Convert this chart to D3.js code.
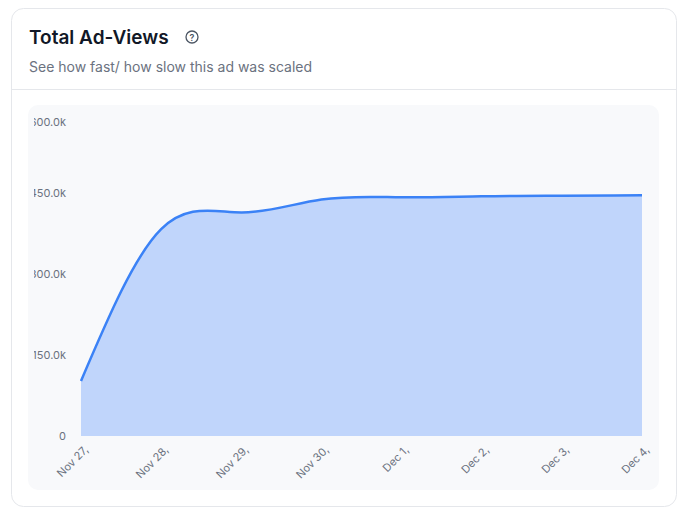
<!DOCTYPE html><html><head><meta charset="utf-8"><script src="https://cdn.jsdelivr.net/npm/d3@7"></script>
<style>body{margin:0;background:#fff;font-family:Inter,sans-serif}</style></head><body>
<script>
const categories=["Nov 27,","Nov 28,","Nov 29,","Nov 30,","Dec 1,","Dec 2,","Dec 3,","Dec 4,"];
const views=[102000,383000,414000,438000,442000,444000,445000,446000];
const yTicks=[0,150000,300000,450000,600000];
const yTickLabels=["0","150.0k","300.0k","450.0k","600.0k"];
const svg=d3.select("body").append("svg").attr("width",688).attr("height",518);
svg.append("rect").attr("x",11.5).attr("y",8.5).attr("width",665).attr("height",498).attr("rx",12).attr("fill","#fff").attr("stroke","#e5e7eb");
svg.append("text").attr("x",29).attr("y",44).attr("font-size",19).attr("font-weight",600).attr("fill","#111827").text("Total Ad-Views");
const hg=svg.append("g").attr("transform","translate(192,37)");
hg.append("circle").attr("r",6).attr("fill","none").attr("stroke","#4b5563").attr("stroke-width",1.3);
hg.append("text").attr("y",3.5).attr("text-anchor","middle").attr("font-size",9).attr("font-weight",600).attr("fill","#4b5563").text("?");
svg.append("text").attr("x",29).attr("y",72).attr("font-size",14).attr("fill","#6b7280").text("See how fast/ how slow this ad was scaled");
svg.append("line").attr("x1",12).attr("x2",676).attr("y1",89.5).attr("y2",89.5).attr("stroke","#e5e7eb");
const defs=svg.append("defs");
defs.append("clipPath").attr("id","pc").append("rect").attr("x",28).attr("y",105).attr("width",631).attr("height",385).attr("rx",10);
defs.append("clipPath").attr("id","yc").append("rect").attr("x",34).attr("y",105).attr("width",100).attr("height",385);
const p=svg.append("g").attr("clip-path","url(#pc)");
p.append("rect").attr("x",28).attr("y",105).attr("width",631).attr("height",385).attr("fill","#f8f9fb");
const x=d3.scalePoint().domain(categories).range([81,642]);
const y=d3.scaleLinear().domain([0,600000]).range([436,112]);
const area=d3.area().x((d,i)=>x(categories[i])).y0(y(0)).y1(d=>y(d)).curve(d3.curveNatural);
const line=d3.line().x((d,i)=>x(categories[i])).y(d=>y(d)).curve(d3.curveNatural);
p.append("path").datum(views).attr("d",area).attr("fill","#c0d5fb");
p.append("path").datum(views).attr("d",line).attr("fill","none").attr("stroke","#3b82f6").attr("stroke-width",2.5);
const ya=svg.append("g").attr("clip-path","url(#yc)").append("g").attr("transform","translate(66,0)").call(d3.axisLeft(y).tickValues(yTicks).tickFormat((d,i)=>yTickLabels[i]).tickSize(0).tickPadding(0));
ya.select(".domain").remove();
ya.selectAll("text").attr("font-size",11).attr("fill","#6b7280").attr("font-family","Inter,sans-serif");
ya.selectAll(".tick").filter(d=>d===600000).select("text").attr("dy","1.25em");
const xa=p.append("g").attr("transform","translate(2,445)").call(d3.axisBottom(x).tickSize(0).tickPadding(0));
xa.select(".domain").remove();
xa.selectAll("text").attr("font-size",11).attr("fill","#6b7280").attr("font-family","Inter,sans-serif")
 .attr("text-anchor","end").attr("dy","0.7em").attr("transform","rotate(-45)");
</script></body></html>
